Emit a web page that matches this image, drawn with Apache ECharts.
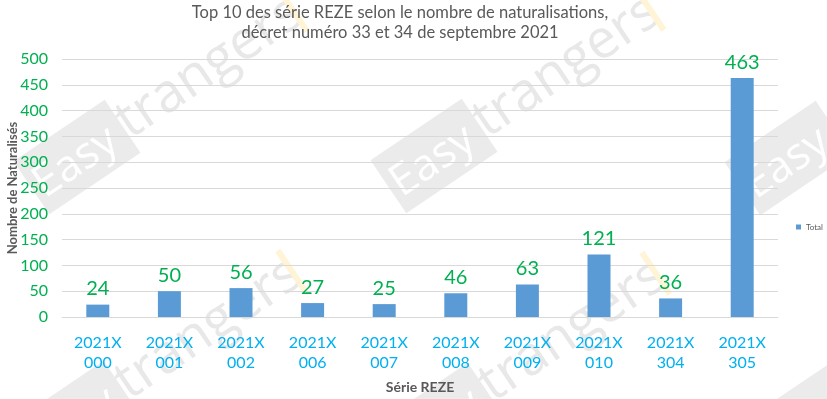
<!DOCTYPE html>
<html><head><meta charset="utf-8">
<script src="https://cdn.jsdelivr.net/npm/echarts@6/dist/echarts.min.js"></script>
<style>html,body{margin:0;padding:0;background:#fff}#c{width:827px;height:399px}</style>
</head><body><div id="c"></div>
<script>
const categories = ['2021X\n000','2021X\n001','2021X\n002','2021X\n006','2021X\n007','2021X\n008','2021X\n009','2021X\n010','2021X\n304','2021X\n305'];
const totals = [24, 50, 56, 27, 25, 46, 63, 121, 36, 463];
const titleText = 'Top 10 des série REZE selon le nombre de naturalisations,\ndécret numéro 33 et 34 de septembre 2021';
const watermarkText = ['Easy', 'trangers'];
const FONT = 'Lato, "Open Sans", sans-serif';

// watermark tile anchors (decorative background)
const wmAnchors = [[77,157],[434,156],[788,158],[76,418],[440,420],[800,422]];
function watermark(cx, cy) {
  return {
    type: 'group', x: cx, y: cy, rotation: 34 * Math.PI / 180, silent: true, z: -10,
    children: [
      {type: 'rect', shape: {x: -55, y: -32, width: 110, height: 64}, style: {fill: '#EBEBEB'}, z: -10},
      {type: 'text', x: -50, y: 4, style: {text: watermarkText[0], fill: '#FFFFFF', font: '44px "Open Sans", sans-serif', verticalAlign: 'middle'}, z: -9},
      {type: 'text', x: 54, y: 0, style: {text: watermarkText[1], fill: '#E8E8E8', font: '54px "Open Sans", sans-serif', verticalAlign: 'middle'}, z: -9},
      {type: 'rect', shape: {x: 258, y: -26, width: 6, height: 50}, style: {fill: '#FFF4D6'}, z: -9}
    ]
  };
}

const chart = echarts.init(document.getElementById('c'), null, {renderer:'canvas'});
chart.setOption({
  backgroundColor: '#fff',
  animation: false,
  graphic: wmAnchors.map(a => watermark(a[0], a[1])),
  title: {
    text: titleText, left: 395, textAlign: 'center', top: -2,
    textStyle: {fontFamily: FONT, fontSize: 16.5, fontWeight: 'normal', color: '#595959', lineHeight: 20}
  },
  legend: {
    data: ['Total'], orient: 'vertical', left: 791, top: 218,
    itemWidth: 5, itemHeight: 5, itemGap: 2,
    textStyle: {fontFamily: FONT, fontSize: 8, color: '#595959'}, icon: 'rect'
  },
  grid: {left: 62, right: 49, top: 59, bottom: 82, containLabel: false, outerBoundsMode: 'none'},
  xAxis: {
    type: 'category', data: categories,
    name: 'Série REZE', nameLocation: 'middle', nameGap: 63, nameMoveOverlap: false,
    nameTextStyle: {fontFamily: FONT, fontSize: 14, fontWeight: 'bold', color: '#595959'},
    axisLine: {lineStyle: {color: '#D9D9D9'}}, axisTick: {show: false},
    axisLabel: {fontFamily: FONT, fontSize: 16, color: '#00B0F0', margin: 16, lineHeight: 20}
  },
  yAxis: {
    type: 'value', min: 0, max: 500, interval: 50,
    name: 'Nombre de Naturalisés', nameLocation: 'middle', nameGap: 43, nameRotate: 90, nameMoveOverlap: false,
    nameTextStyle: {fontFamily: FONT, fontSize: 13, fontWeight: 'bold', color: '#595959'},
    axisLine: {show: false}, axisTick: {show: false},
    splitLine: {lineStyle: {color: '#D9D9D9'}},
    axisLabel: {fontFamily: FONT, fontSize: 16, color: '#00B050', margin: 14}
  },
  series: [{
    name: 'Total', type: 'bar', data: totals, barWidth: 23,
    itemStyle: {color: '#5B9BD5'},
    label: {show: true, position: 'top', distance: 6, fontFamily: FONT, fontSize: 20, color: '#00B050'}
  }]
});
</script></body></html>
